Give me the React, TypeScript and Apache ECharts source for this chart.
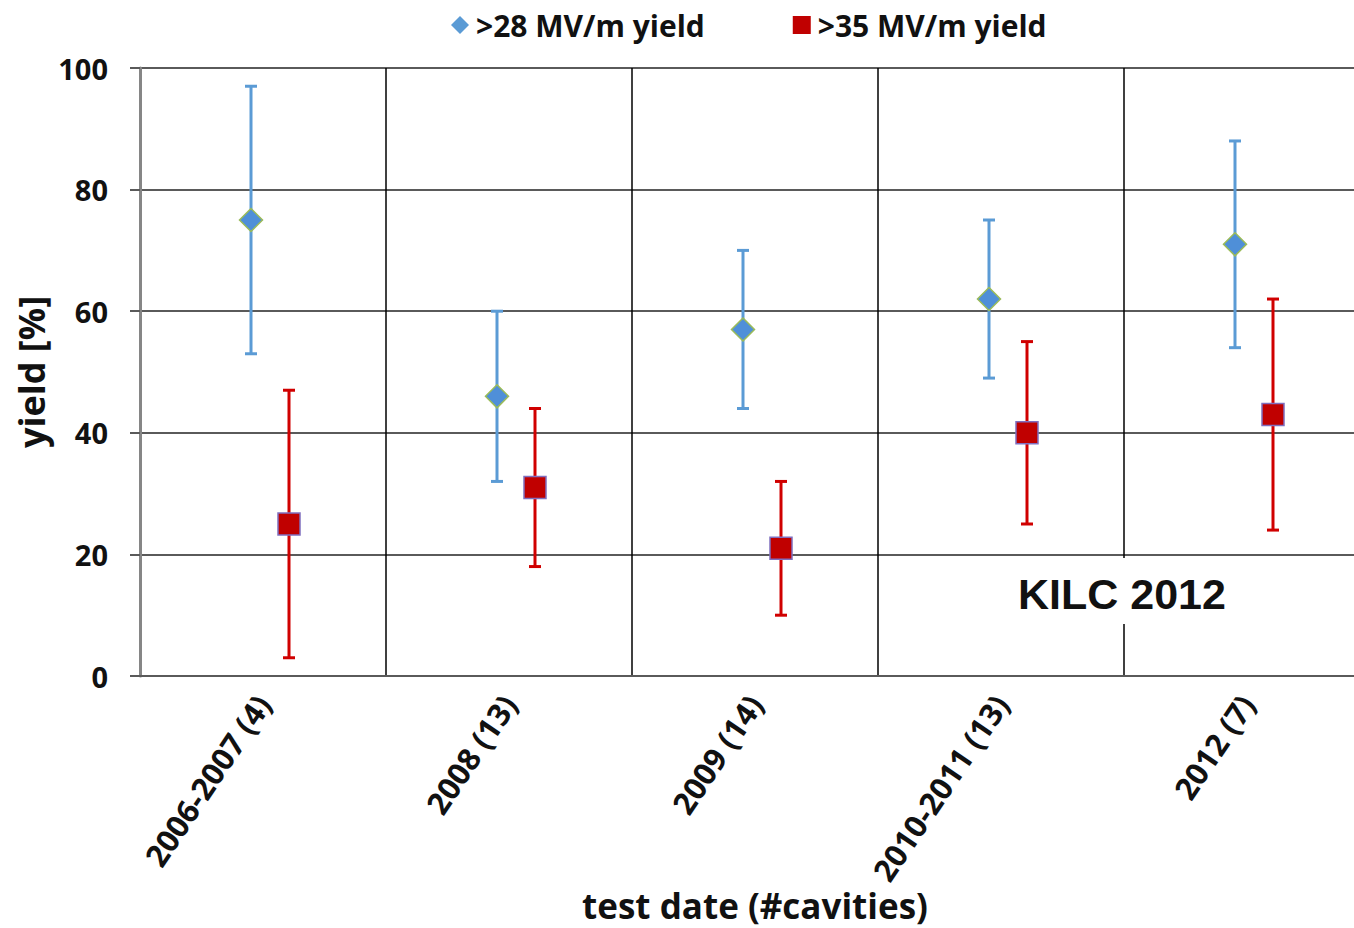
import React, { useEffect, useRef } from "react";
import * as echarts from "echarts";

const categories = ["2006-2007 (4)", "2008 (13)", "2009 (14)", "2010-2011 (13)", "2012 (7)"];
const yield28 = [75, 46, 57, 62, 71];
const yield28Low = [53, 32, 44, 49, 54];
const yield28High = [97, 60, 70, 75, 88];
const yield35 = [25, 31, 21, 40, 43];
const yield35Low = [3, 18, 10, 25, 24];
const yield35High = [47, 44, 32, 55, 62];
const yTicks = { min: 0, max: 100, interval: 20 };

const FONT = "'Open Sans', sans-serif";

function makeRender(offsetFrac: number, barColor: string, marker: "diamond" | "square", fill: string, stroke: string) {
  return (params: any, api: any) => {
    const idx = api.value(0);
    const c = api.coord([idx, api.value(1)]);
    const lo = api.coord([idx, api.value(2)]);
    const hi = api.coord([idx, api.value(3)]);
    const bw = api.size([1, 0])[0];
    const x = c[0] + bw * offsetFrac;
    const cap = 6;
    const lineStyle = { stroke: barColor, lineWidth: 3 };
    const children: any[] = [
      { type: "line", shape: { x1: x, y1: hi[1], x2: x, y2: lo[1] }, style: lineStyle },
      { type: "line", shape: { x1: x - cap, y1: hi[1], x2: x + cap, y2: hi[1] }, style: lineStyle },
      { type: "line", shape: { x1: x - cap, y1: lo[1], x2: x + cap, y2: lo[1] }, style: lineStyle },
    ];
    if (marker === "diamond") {
      const r = 11.5;
      children.push({
        type: "polygon",
        shape: { points: [[x, c[1] - r], [x + r, c[1]], [x, c[1] + r], [x - r, c[1]]] },
        style: { fill, stroke, lineWidth: 1.5 },
      });
    } else {
      const s = 22;
      children.push({
        type: "rect",
        shape: { x: x - s / 2, y: c[1] - s / 2, width: s, height: s },
        style: { fill, stroke, lineWidth: 1.5 },
      });
    }
    return { type: "group", children };
  };
}

export default function App() {
  const ref = useRef<HTMLDivElement>(null);
  useEffect(() => {
    if (!ref.current) return;
    const chart = echarts.init(ref.current, null, { renderer: "svg" });
    const d28 = categories.map((_, i) => [i, yield28[i], yield28Low[i], yield28High[i]]);
    const d35 = categories.map((_, i) => [i, yield35[i], yield35Low[i], yield35High[i]]);
    chart.setOption({
      animation: false,
      backgroundColor: "#fff",
      textStyle: { fontFamily: FONT },
      legend: {
        left: 446,
        top: 5,
        itemGap: 88,
        itemWidth: 18,
        itemHeight: 18,
        textStyle: { fontFamily: FONT, fontWeight: "bold", fontSize: 30, color: "#111", padding: [0, 0, 0, 2] },
        data: [
          { name: ">28 MV/m yield", icon: "diamond", itemStyle: { color: "#5b9bd5" } },
          { name: ">35 MV/m yield", icon: "rect", itemStyle: { color: "#c00000" } },
        ],
      },
      grid: { left: 140, right: 10, top: 68, bottom: 252, containLabel: false, outerBoundsMode: "none" },
      xAxis: {
        type: "category",
        data: categories,
        boundaryGap: true,
        name: "test date (#cavities)",
        nameLocation: "middle",
        nameGap: 212,
        nameMoveOverlap: false,
        nameTextStyle: { fontFamily: FONT, fontWeight: "bold", fontSize: 35, color: "#111" },
        axisLine: { show: true, lineStyle: { color: "#5a5a5a", width: 2 } },
        axisTick: { show: false },
        axisLabel: {
          rotate: 56,
          margin: 22,
          interval: 0,
          fontFamily: FONT,
          fontWeight: "bold",
          fontSize: 31,
          color: "#111",
        },
        splitLine: {
          show: true,
          interval: (index: number) => index > 0,
          lineStyle: { color: "#000", width: 1.5 },
        },
      },
      yAxis: {
        type: "value",
        min: yTicks.min,
        max: yTicks.max,
        interval: yTicks.interval,
        name: "yield [%]",
        nameLocation: "middle",
        nameGap: 91,
        nameMoveOverlap: false,
        nameTextStyle: { fontFamily: FONT, fontWeight: "bold", fontSize: 36, color: "#111" },
        axisLine: { show: true, lineStyle: { color: "#868686", width: 3 } },
        axisTick: { show: true, length: 10, lineStyle: { color: "#5a5a5a", width: 2 } },
        axisLabel: { margin: 32, fontFamily: FONT, fontWeight: "bold", fontSize: 29, color: "#111" },
        splitLine: { show: true, lineStyle: { color: "#5a5a5a", width: 2 } },
      },
      graphic: [
        { type: "rect", z: 100, shape: { x: 1010, y: 558, width: 228, height: 66 }, style: { fill: "#fff" } },
        {
          type: "text",
          z: 101,
          x: 1018,
          y: 594,
          style: {
            text: "KILC 2012",
            fill: "#111",
            font: "bold 43px 'Liberation Sans', Arial, sans-serif",
            verticalAlign: "middle",
          },
        },
      ],
      series: [
        {
          name: ">28 MV/m yield",
          type: "custom",
          itemStyle: { color: "#5b9bd5" },
          encode: { x: 0, y: 1 },
          renderItem: makeRender(-12 / 246, "#5b9bd5", "diamond", "#4f8fd8", "#9bbb59"),
          data: d28,
          z: 5,
        },
        {
          name: ">35 MV/m yield",
          type: "custom",
          itemStyle: { color: "#c00000" },
          encode: { x: 0, y: 1 },
          renderItem: makeRender(26 / 246, "#d00000", "square", "#c00000", "#7f6fbf"),
          data: d35,
          z: 5,
        },
      ],
    });
    return () => chart.dispose();
  }, []);
  return (
    <div style={{ position: "fixed", left: 0, top: 0, width: 1354, height: 928, overflow: "hidden", background: "#fff" }}>
      <div ref={ref} style={{ width: 1380, height: 928 }} />
    </div>
  );
}
